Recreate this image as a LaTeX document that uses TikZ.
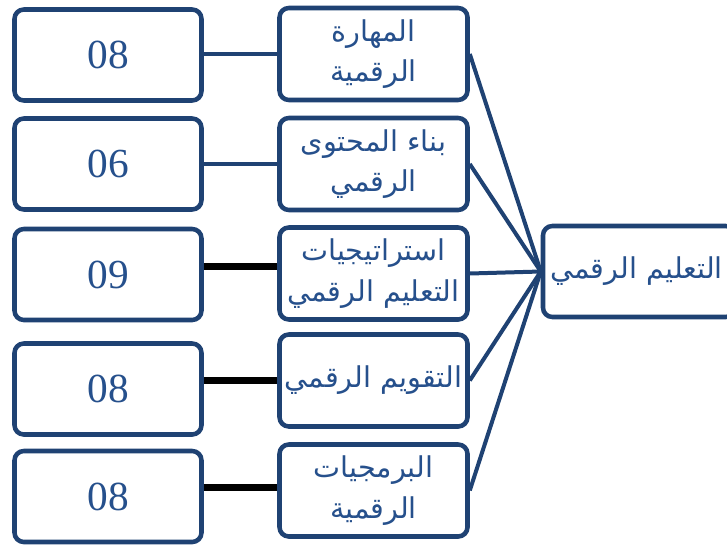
\documentclass[tikz,border=0pt]{standalone}
\usepackage{fontspec}
\setmainfont{Liberation Serif}
\newfontfamily\arabicfont[Script=Arabic]{DejaVu Sans}
\TeXXeTstate=1
\newcommand\artxt[1]{{\arabicfont\beginR #1\endR}}
\definecolor{boxblue}{RGB}{31,66,115}
\definecolor{txtblue}{RGB}{38,80,140}
\begin{document}
\begin{tikzpicture}[x=0.75pt,y=-0.75pt,
  box/.style={draw=boxblue,line width=3.4pt,rounded corners=7pt,fill=white,inner sep=0pt,text=txtblue},
  numbox/.style={box,minimum width={187*0.75pt},minimum height={91*0.75pt},font=\fontsize{31}{32}\selectfont},
  midbox/.style={box,minimum width={188*0.75pt},minimum height={92*0.75pt},align=center,font=\fontsize{21.5}{30.5}\selectfont},
  blueline/.style={draw=boxblue,line width=3pt},
  blackline/.style={draw=black,line width=5.2pt}]
\useasboundingbox (0,0) rectangle (727,546);
% left number boxes
\node[numbox] (L1) at (108,55) {08};
\node[numbox] (L2) at (108,164) {06};
\node[numbox] (L3) at (108,274.5) {09};
\node[numbox] (L4) at (108,389) {08};
\node[numbox] (L5) at (108,496.5) {08};
% middle boxes
\node[midbox] (M1) at (373.5,54) {\artxt{المهارة}\\\artxt{الرقمية}};
\node[midbox] (M2) at (373.5,164) {\artxt{بناء المحتوى}\\\artxt{الرقمي}};
\node[midbox] (M3) at (373.5,273.5) {\artxt{استراتيجيات}\\\artxt{التعليم الرقمي}};
\node[midbox] (M4) at (373.5,380.5) {\artxt{التقويم الرقمي}};
\node[midbox] (M5) at (373.5,490.5) {\artxt{البرمجيات}\\\artxt{الرقمية}};
% right box
\node[midbox,minimum height={91*0.75pt},minimum width={192*0.75pt}] (R) at (639,271.5) {};
\node[text=txtblue,font=\fontsize{21.5}{30}\selectfont,anchor=east,inner sep=0pt] (RT) at (723,271.5) {\artxt{التعليم الرقمي}};
% connectors
\draw[blueline] (M1.west -| L1.east) -- (M1.west);
\draw[blueline] (M2.west -| L2.east) -- (M2.west);
\draw[blackline] ([yshift=5pt]M3.west -| L3.east) -- ([yshift=5pt]M3.west);
\draw[blackline] (M4.west -| L4.east) -- (M4.west);
\draw[blackline] ([yshift=2pt]M5.west -| L5.east) -- ([yshift=2pt]M5.west);
\foreach \m in {M1,M2,M3,M4,M5}{
  \draw[blueline] (\m.east) -- (R.west);
}
\end{tikzpicture}
\end{document}
